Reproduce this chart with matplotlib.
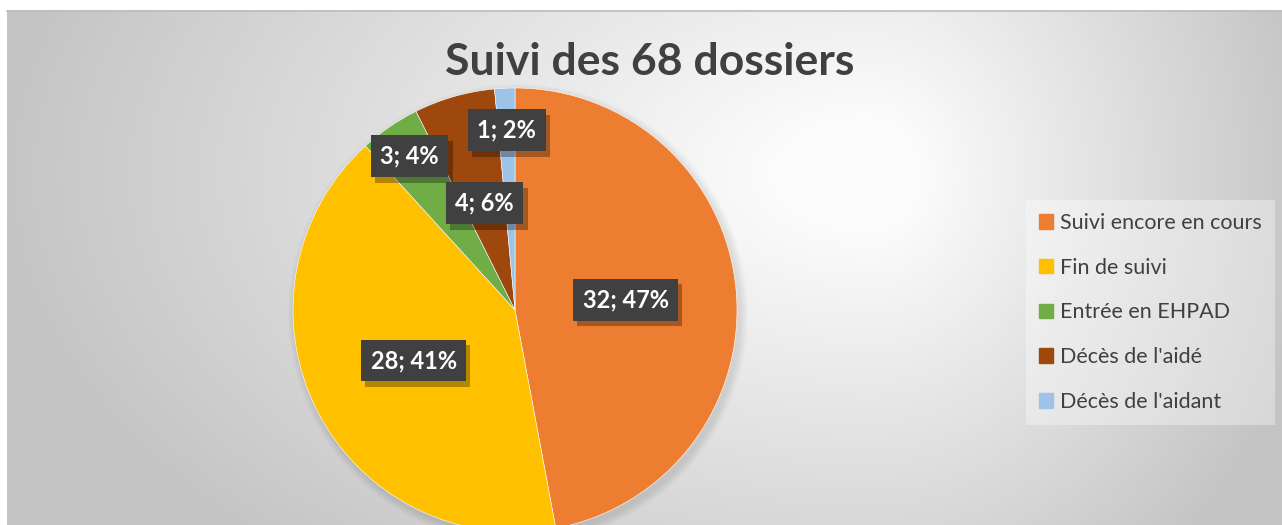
import matplotlib.pyplot as plt
import matplotlib.patches as mpatches
import matplotlib.patheffects as pe
import numpy as np

# data
categories = ["Suivi encore en cours", "Fin de suivi", "Entrée en EHPAD",
              "Décès de l'aidé", "Décès de l'aidant"]
counts = [32, 28, 3, 4, 1]
pct_labels = [47, 41, 4, 6, 2]
colors = ["#ED7D31", "#FFC000", "#70AD47", "#9E480E", "#9DC3E6"]
label_r = [0.5, 0.51, 0.84, 0.5, 0.81]

W, H = 1282, 525
fig = plt.figure(figsize=(W / 100, H / 100), dpi=100)
fig.patch.set_facecolor("white")

ax = fig.add_axes([0, 0, 1, 1])

# background gradient of the chart area
gx, gy = np.meshgrid(np.arange(7, W), np.arange(0, H - 10))
cx, cy = 870, H - 175
dx = gx - cx
sx = np.where(dx < 0, 880, 450)
t = np.sqrt((dx / sx) ** 2 + ((gy - cy) / 520) ** 2)
t = np.clip((t - 0.1) / 0.9, 0, 1)
g = (252 - (252 - 196) * t) / 255
ax.imshow(np.dstack([g, g, g]), extent=(7, W, 0, H - 10), origin="lower",
          aspect="auto", zorder=0, interpolation="bilinear")
ax.plot([7, W], [H - 10.5, H - 10.5], color="#bdbdbd", lw=1.2, zorder=1)

# pie
center = (515, H - 310)
radius = 222
for k in range(8):
    ax.add_patch(mpatches.Circle((center[0] + 3, center[1] - 4), radius + 8 - k,
                                 fc="black", ec="none", alpha=0.012, zorder=1.5))
wedges, _ = ax.pie(counts, colors=colors, startangle=90, counterclock=False,
                   center=center, radius=radius, frame=True,
                   wedgeprops=dict(edgecolor="white", linewidth=0.4))
for w in wedges:
    w.set_zorder(2)
ax.set_xlim(0, W)
ax.set_ylim(0, H)
ax.axis("off")

# data labels
for w, n, p, r in zip(wedges, counts, pct_labels, label_r):
    ang = np.deg2rad((w.theta1 + w.theta2) / 2)
    x = center[0] + r * radius * np.cos(ang)
    y = center[1] + r * radius * np.sin(ang)
    t = ax.text(x, y, f"{n}; {p}%", ha="center", va="center", fontsize=17,
                fontweight="bold", family="Lato", color="white", zorder=4,
                bbox=dict(boxstyle="square,pad=0.4", fc="#404040", ec="none"))
    t.get_bbox_patch().set_path_effects(
        [pe.SimplePatchShadow(offset=(3, -4), shadow_rgbFace="black", alpha=0.3),
         pe.Normal()])

# title
ax.text(650, H - 62, "Suivi des 68 dossiers", ha="center", va="center",
        fontsize=32, fontweight="bold", family="Lato", color="#404040", zorder=5)

# legend
handles = [mpatches.Patch(color=c, label=l) for c, l in zip(colors, categories)]
leg = ax.legend(handles=handles, loc="upper left",
                bbox_to_anchor=(1026 / W, 1 - 200 / H), bbox_transform=fig.transFigure,
                prop=dict(family="Lato", size=15.5), labelcolor="#404040",
                frameon=True, fancybox=False, facecolor="white", framealpha=0.35,
                edgecolor="none", handlelength=0.65, handleheight=0.65,
                handletextpad=0.35, labelspacing=1.15, borderpad=0.6,
                borderaxespad=0)
leg.set_zorder(5)

fig.savefig("out.png", dpi=100)
